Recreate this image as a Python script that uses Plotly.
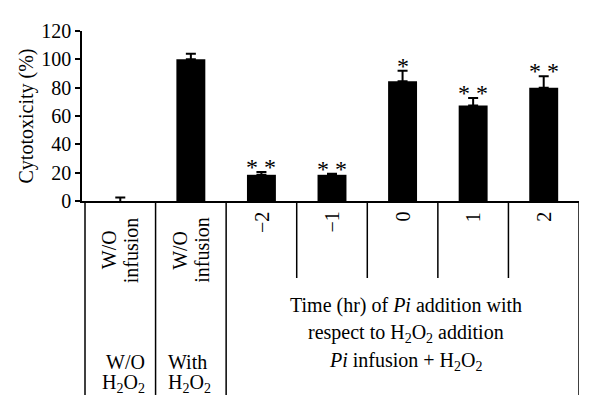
import plotly.graph_objects as go

# ---- data ----
categories = ["W/O infusion", "W/O infusion", "−2", "−1", "0", "1", "2"]
cytotoxicity = [0.0, 100.0, 18.5, 18.5, 84.5, 67.5, 80.0]
err_plus = [2.5, 4.0, 2.0, 0.8, 7.5, 5.2, 8.0]
err_minus = [2.5, 0, 0, 0, 0, 0, 0]
significance = ["", "", "* *", "* *", "*", "* *", "* *"]
y_ticks = [0, 20, 40, 60, 80, 100, 120]

FONT = "Liberation Serif"
FS = 20
xs = list(range(len(categories)))

fig = go.Figure()
fig.add_trace(go.Bar(
    x=xs, y=cytotoxicity, width=0.41,
    marker=dict(color="black", line=dict(width=0)),
    error_y=dict(type="data", symmetric=False, array=err_plus, arrayminus=err_minus,
                 color="black", thickness=2, width=5),
    cliponaxis=False, showlegend=False,
))


def ann(**kw):
    kw.setdefault("showarrow", False)
    kw.setdefault("xanchor", "center")
    kw.setdefault("yanchor", "middle")
    kw.setdefault("font", dict(family=FONT, size=FS, color="black"))
    return kw


annotations = []
# significance markers
for x, v, e, s in zip(xs, cytotoxicity, err_plus, significance):
    if s:
        annotations.append(ann(x=x, y=v + e, xref="x", yref="y", text=s,
                               yanchor="bottom", yshift=-10,
                               font=dict(family=FONT, size=24, color="black")))
# rotated category labels
for x, c in zip(xs, categories):
    if c == "W/O infusion":
        for word, dx in zip(c.split(" "), (-11, 11)):
            annotations.append(ann(x=x, y=-0.288, xref="x", yref="paper", text=word,
                                   textangle=-90, xshift=dx))
    else:
        annotations.append(ann(x=x, y=-0.053, xref="x", yref="paper", text=c,
                               textangle=-90, yanchor="top"))

# group labels
for txt, dy in (("W/O", -0.947), ("H<sub>2</sub>O<sub>2</sub>", -1.075)):
    annotations.append(ann(x=0.5, y=dy, xref="x", yref="paper", xanchor="right", xshift=-9,
                           text=txt))
for txt, dy in (("With", -0.947), ("H<sub>2</sub>O<sub>2</sub>", -1.075)):
    annotations.append(ann(x=0.5, y=dy, xref="x", yref="paper", xanchor="left", xshift=10,
                           text=txt))
time_lines = ["Time (hr) of <i>Pi</i> addition with",
              "respect to H<sub>2</sub>O<sub>2</sub> addition",
              "<i>Pi</i> infusion + H<sub>2</sub>O<sub>2</sub>"]
for t, dy in zip(time_lines, (-0.612, -0.782, -0.947)):
    annotations.append(ann(x=4, y=dy, xref="x", yref="paper", xshift=3, text=t))

# divider lines below the axis
shapes = []
for i in range(len(categories) + 1):
    b = i - 0.5
    full = b <= 1.5 or b == len(categories) - 0.5
    shapes.append(dict(type="line", xref="x", yref="paper", x0=b, x1=b, y0=0,
                       y1=-1.141 if full else -0.453,
                       line=dict(color="black", width=1.5)))

# page body has an 8px margin, so the figure is 8px smaller and margins shifted
fig.update_layout(
    width=592, height=408,
    margin=dict(l=74, r=21, t=23, b=215, autoexpand=False),
    paper_bgcolor="white", plot_bgcolor="white",
    font=dict(family=FONT, size=FS, color="black"),
    xaxis=dict(range=[-0.5425, 6.5], showticklabels=False, ticks="", showgrid=False,
               zeroline=False, showline=True, linecolor="black", linewidth=1.5,
               automargin=False),
    yaxis=dict(range=[0, 120], tickvals=y_ticks, ticks="outside", ticklen=5, tickwidth=1.5,
               tickcolor="black", showgrid=False, zeroline=False, showline=True,
               linecolor="black", linewidth=1.5, automargin=False,
               title=dict(text="Cytotoxicity (%)", standoff=2, font=dict(family=FONT, size=FS)),
               tickfont=dict(family=FONT, size=FS)),
    annotations=annotations, shapes=shapes,
)
fig.write_html("out.html")
